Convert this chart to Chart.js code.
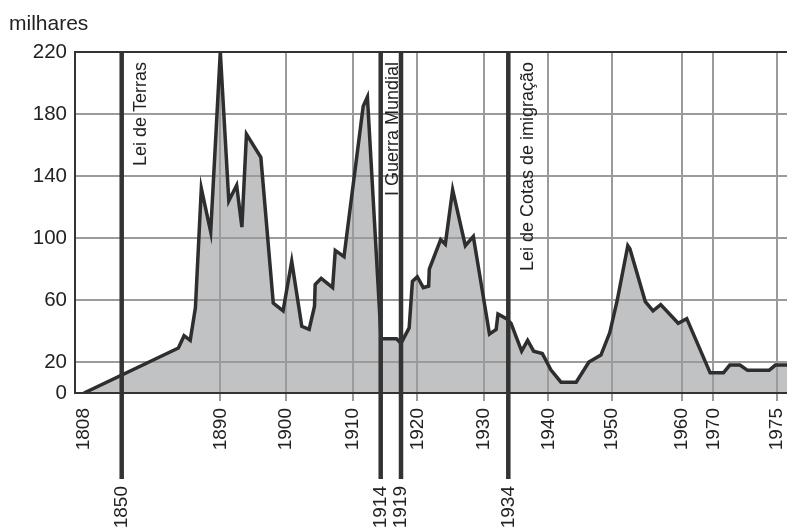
<!DOCTYPE html>
<html>
<head>
<meta charset="utf-8">
<script src="https://cdn.jsdelivr.net/npm/chart.js@4/dist/chart.umd.min.js"></script>
<style>
  html, body { margin: 0; padding: 0; background: #ffffff; }
  #wrap { position: relative; width: 787px; height: 529px; }
</style>
</head>
<body>
<div id="wrap"><canvas id="c"></canvas></div>
<script>
// ---------- data ----------
const YEARS = [1808, 1873.0, 1875.3, 1877.8, 1879.9, 1882.3, 1886.1, 1890, 1891.3, 1892.5,
  1893.3, 1894.0, 1896.2, 1898.1, 1899.6, 1900.9, 1902.4, 1903.5, 1904.3, 1904.4,
  1905.3, 1907.0, 1907.4, 1908.7, 1911.5, 1912.1, 1914.1, 1917.9, 1919, 1919.5,
  1919.7, 1920, 1920.9, 1921.7, 1921.8, 1923.5, 1924.2, 1925.3, 1927.2, 1928.4,
  1930.9, 1932.0, 1932.3, 1933.7, 1934.4, 1936.0, 1936.9, 1937.8, 1939.1, 1940.4,
  1942.0, 1944.4, 1946.4, 1948.3, 1949.7, 1950.8, 1952.3, 1952.6, 1954.8, 1955.9,
  1957.0, 1959.5, 1961.6, 1969.0, 1970.8, 1971.3, 1972.1, 1972.7, 1974.4, 1974.9, 1975.8];
const IMMIGRANTS = [0, 29, 37, 34, 55, 132, 104, 220, 124, 134,
  107, 167, 152, 58, 53, 85, 43, 41, 56, 70,
  74, 68, 92, 88, 185, 191, 35, 35, 32, 42,
  72, 75, 68, 69, 80, 99, 96, 131, 95, 101,
  38, 41, 51, 48, 45, 27, 34, 27, 25.5, 15,
  7, 7, 20, 24.5, 39, 60, 95, 93, 59, 53,
  57, 45, 48, 13, 13, 18, 18, 14.6, 14.6, 18, 18];
const X_TICKS = [1808, 1890, 1900, 1910, 1920, 1930, 1940, 1950, 1960, 1970, 1975];
const Y_TICKS = [0, 20, 60, 100, 140, 180, 220];
const EVENT_YEARS = [1850, 1914, 1919, 1934];
const EVENT_NAMES = ['Lei de Terras', 'I Guerra Mundial', '', 'Lei de Cotas de imigração'];
const Y_UNIT = 'milhares';

// ---------- non-uniform time axis of the original (scale definition) ----------
const AXIS_BREAK_YEARS = [1808, 1850, 1890, 1900, 1910, 1914, 1919, 1920, 1930, 1934, 1940, 1950, 1960, 1970, 1975, 1975.8];
const AXIS_BREAK_AT = [9, 46.7, 145.3, 210.7, 277.7, 305.7, 326, 342.3, 409, 433.3, 473.3, 536.7, 606.7, 638.3, 701.7, 712].map(v => v / 712);

class BrokenYearScale extends Chart.LinearScale {
  _frac(v) {
    const ys = AXIS_BREAK_YEARS, fs = AXIS_BREAK_AT;
    let i = 0;
    while (i < ys.length - 2 && v > ys[i + 1]) i++;
    return fs[i] + (v - ys[i]) * (fs[i + 1] - fs[i]) / (ys[i + 1] - ys[i]);
  }
  getPixelForValue(v) { return this.getPixelForDecimal(this._frac(v)); }
  getValueForPixel(p) {
    const d = this.getDecimalForPixel(p);
    const ys = AXIS_BREAK_YEARS, fs = AXIS_BREAK_AT;
    let i = 0;
    while (i < fs.length - 2 && d > fs[i + 1]) i++;
    return ys[i] + (d - fs[i]) * (ys[i + 1] - ys[i]) / (fs[i + 1] - fs[i]);
  }
}
BrokenYearScale.id = 'brokenYear';
BrokenYearScale.defaults = Chart.LinearScale.defaults;
Chart.register(BrokenYearScale);

const FONT = '"Liberation Sans", Arial, Helvetica, sans-serif';
const INK = '#222222';
const DARK = '#333333';
const GRID = '#9b9b9b';

const overlay = {
  id: 'overlay',
  afterDatasetsDraw(chart) {
    const { ctx, chartArea: a, scales: { x } } = chart;
    ctx.save();
    // top frame line
    ctx.strokeStyle = DARK;
    ctx.lineWidth = 2;
    ctx.beginPath(); ctx.moveTo(a.left, a.top); ctx.lineTo(a.right, a.top); ctx.stroke();
    const shifts = [24, 17, 0, 25];
    EVENT_YEARS.forEach((yr, i) => {
      const px = x.getPixelForValue(yr);
      ctx.strokeStyle = DARK;
      ctx.lineWidth = 4.5;
      ctx.beginPath(); ctx.moveTo(px, a.top); ctx.lineTo(px, a.bottom + 86); ctx.stroke();
      // year below the axis
      ctx.save();
      ctx.translate(px, a.bottom + 93);
      ctx.rotate(-Math.PI / 2);
      ctx.textAlign = 'right'; ctx.textBaseline = 'middle';
      ctx.font = '19px ' + FONT; ctx.fillStyle = INK;
      ctx.fillText(String(yr), 0, 0);
      ctx.restore();
      // event name inside the plot
      if (EVENT_NAMES[i]) {
        ctx.save();
        ctx.translate(px + shifts[i], a.top + 10);
        ctx.rotate(-Math.PI / 2);
        ctx.textAlign = 'right'; ctx.textBaseline = 'alphabetic';
        ctx.font = '18px ' + FONT; ctx.fillStyle = INK;
        ctx.fillText(EVENT_NAMES[i], 0, 0);
        ctx.restore();
      }
    });
    ctx.restore();
  },
  afterDraw(chart) {
    const ctx = chart.ctx;
    ctx.save();
    ctx.font = '21px ' + FONT; ctx.fillStyle = INK;
    ctx.textAlign = 'left'; ctx.textBaseline = 'alphabetic';
    ctx.fillText(Y_UNIT, 9, 30);
    ctx.restore();
  }
};

const gridColor = c => (c.tick && c.tick.value === X_TICKS[0]) ? 'rgba(0,0,0,0)' : GRID;

new Chart(document.getElementById('c'), {
  type: 'line',
  data: {
    datasets: [{
      data: YEARS.map((yr, i) => ({ x: yr, y: IMMIGRANTS[i] })),
      borderColor: '#2e2e2e',
      borderWidth: 3.5,
      backgroundColor: '#c1c2c4',
      fill: 'origin',
      pointRadius: 0,
      tension: 0,
      borderJoinStyle: 'miter'
    }]
  },
  options: {
    responsive: true,
    maintainAspectRatio: false,
    animation: false,
    layout: { padding: { top: 52, left: 0, right: 0, bottom: 0 } },
    plugins: {
      legend: { display: false },
      tooltip: { enabled: false },
      filler: { drawTime: 'beforeDraw' }
    },
    scales: {
      x: {
        type: 'brokenYear',
        min: 1808, max: 1975.8,
        afterBuildTicks: s => { s.ticks = X_TICKS.map(v => ({ value: v })); },
        afterFit: s => { s.height = 136; s.paddingLeft = 0; s.paddingRight = 0; },
        ticks: {
          autoSkip: false, minRotation: 90, maxRotation: 90, padding: 7,
          color: INK, font: { family: FONT, size: 19 },
          callback: v => String(v)
        },
        grid: { color: gridColor, tickColor: gridColor, lineWidth: 2, tickLength: 8, drawTicks: true },
        border: { color: DARK, width: 2 }
      },
      y: {
        min: 0, max: 220,
        afterBuildTicks: s => { s.ticks = Y_TICKS.map(v => ({ value: v })); },
        afterFit: s => { s.width = 75; },
        ticks: { padding: 8, color: INK, font: { family: FONT, size: 20.5 } },
        grid: { color: GRID, lineWidth: 2, drawTicks: false },
        border: { color: DARK, width: 2 }
      }
    }
  },
  plugins: [overlay]
});
</script>
</body>
</html>
